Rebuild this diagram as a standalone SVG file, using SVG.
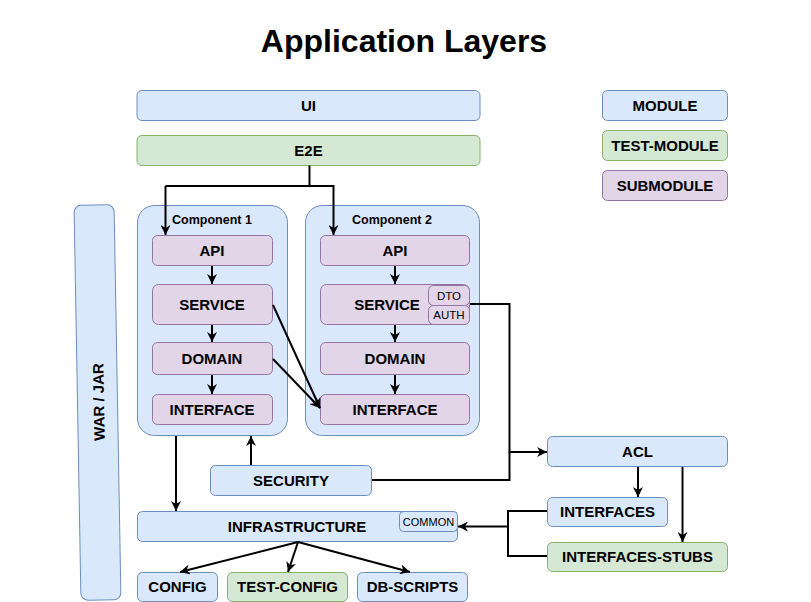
<svg xmlns="http://www.w3.org/2000/svg" width="811" height="602" viewBox="0 0 811 602">
<style>
.blue{fill:#dae8fc;stroke:#6c8ebf;stroke-width:1}
.green{fill:#d5e8d4;stroke:#82b366;stroke-width:1}
.purple{fill:#e1d5e7;stroke:#9673a6;stroke-width:1}
text{font-family:"Liberation Sans",Arial,Helvetica,sans-serif;fill:#000}
.lb{font-size:15px;font-weight:bold;text-anchor:middle}
.sm{font-size:11.5px;text-anchor:middle}
.cmp{font-size:12.5px;font-weight:bold;text-anchor:middle}
.title{font-size:32px;font-weight:bold;text-anchor:middle}
.edge{fill:none;stroke:#000;stroke-width:2}
.arr{marker-end:url(#ah)}
</style>
<defs>
<marker id="ah" markerWidth="11" markerHeight="10" refX="10" refY="5" orient="auto" markerUnits="userSpaceOnUse">
<path d="M0,0 L10,5 L0,10 L3,5 Z" fill="#000"/>
</marker>
</defs>
<rect width="811" height="602" fill="#fff"/>
<text class="title" x="404" y="52">Application Layers</text>

<g id="war-jar">
<rect class="blue" x="77.5" y="205" width="40" height="395" rx="7" transform="rotate(-1 97.5 402.5)"/>
<text class="lb" x="99" y="407" transform="rotate(-91 99 402)">WAR / JAR</text>
</g>
<g id="ui"><rect class="blue" x="137" y="90.5" width="343" height="30" rx="5"/><text class="lb" x="308.5" y="110.5">UI</text></g>
<g id="e2e"><rect class="green" x="137" y="135.5" width="343" height="30" rx="5"/><text class="lb" x="308.5" y="155.5">E2E</text></g>

<g id="legend-module"><rect class="blue" x="602.5" y="90.5" width="125" height="30" rx="5"/><text class="lb" x="665" y="110.5">MODULE</text></g>
<g id="legend-test-module"><rect class="green" x="602.5" y="130.5" width="125" height="30" rx="5"/><text class="lb" x="665" y="151">TEST-MODULE</text></g>
<g id="legend-submodule"><rect class="purple" x="602.5" y="170.5" width="125" height="30" rx="5"/><text class="lb" x="665" y="190.5">SUBMODULE</text></g>

<g id="component1">
<rect class="blue" x="137.5" y="205.5" width="150" height="230" rx="17"/>
<text class="cmp" x="212" y="224">Component 1</text>
</g>
<g id="component2">
<rect class="blue" x="305.5" y="205.5" width="174" height="230" rx="17"/>
<text class="cmp" x="392" y="224">Component 2</text>
</g>

<g id="c1-api"><rect class="purple" x="152.5" y="235.5" width="120" height="30" rx="5"/><text class="lb" x="212" y="255.5">API</text></g>
<g id="c1-service"><rect class="purple" x="152.5" y="284.5" width="120" height="40" rx="6"/><text class="lb" x="212" y="309.5">SERVICE</text></g>
<g id="c1-domain"><rect class="purple" x="152.5" y="342.5" width="120" height="32" rx="5"/><text class="lb" x="212" y="363.5">DOMAIN</text></g>
<g id="c1-interface"><rect class="purple" x="152.5" y="394.5" width="120" height="30" rx="5"/><text class="lb" x="212" y="414.5">INTERFACE</text></g>

<g id="c2-api"><rect class="purple" x="320.5" y="235.5" width="149" height="30" rx="5"/><text class="lb" x="395" y="255.5">API</text></g>
<g id="c2-service"><rect class="purple" x="320.5" y="284.5" width="149" height="40" rx="6"/><text class="lb" x="387" y="309.5">SERVICE</text></g>
<g id="c2-dto"><rect class="purple" x="428.5" y="285.5" width="41" height="20" rx="5"/><text class="sm" x="449" y="299.5">DTO</text></g>
<g id="c2-auth"><rect class="purple" x="428.5" y="305.5" width="41" height="19" rx="5"/><text class="sm" x="449" y="319">AUTH</text></g>
<g id="c2-domain"><rect class="purple" x="320.5" y="342.5" width="149" height="32" rx="5"/><text class="lb" x="395" y="363.5">DOMAIN</text></g>
<g id="c2-interface"><rect class="purple" x="320.5" y="394.5" width="149" height="30" rx="5"/><text class="lb" x="395" y="414.5">INTERFACE</text></g>

<g id="security"><rect class="blue" x="210.5" y="465.5" width="161" height="30" rx="5"/><text class="lb" x="291" y="485.5">SECURITY</text></g>
<g id="infrastructure"><rect class="blue" x="137.5" y="511.5" width="320" height="30" rx="5"/><text class="lb" x="297" y="531.5">INFRASTRUCTURE</text></g>
<g id="common"><rect class="blue" x="399.5" y="511.5" width="58" height="20" rx="4"/><text class="sm" x="428.5" y="525.5" style="font-size:11px">COMMON</text></g>
<g id="config"><rect class="blue" x="137.5" y="572.5" width="80" height="29" rx="5"/><text class="lb" x="177.5" y="592">CONFIG</text></g>
<g id="test-config"><rect class="green" x="227.5" y="572.5" width="120" height="29" rx="5"/><text class="lb" x="287.5" y="592">TEST-CONFIG</text></g>
<g id="db-scripts"><rect class="blue" x="357.5" y="572.5" width="110" height="29" rx="5"/><text class="lb" x="412.5" y="592">DB-SCRIPTS</text></g>

<g id="acl"><rect class="blue" x="547.5" y="436.5" width="180" height="30" rx="5"/><text class="lb" x="637.5" y="456.5">ACL</text></g>
<g id="interfaces"><rect class="blue" x="547.5" y="497.5" width="120" height="29" rx="5"/><text class="lb" x="607.5" y="517">INTERFACES</text></g>
<g id="interfaces-stubs"><rect class="green" x="547.5" y="542.5" width="180" height="29" rx="5"/><text class="lb" x="637.5" y="562">INTERFACES-STUBS</text></g>

<g id="connectors">
<path class="edge" d="M309.5,165.5 V186 H165.5"/>
<path class="edge arr" d="M165.5,186 V235"/>
<path class="edge arr" d="M309.5,186 H333.5 V235"/>
<path class="edge arr" d="M212,266 V284"/>
<path class="edge arr" d="M212,325 V342"/>
<path class="edge arr" d="M212,375 V394"/>
<path class="edge arr" d="M395,266 V284"/>
<path class="edge arr" d="M395,325 V342"/>
<path class="edge arr" d="M395,375 V394"/>
<path class="edge arr" d="M273,305 L320,408"/>
<path class="edge arr" d="M273,359 L320,408"/>
<path class="edge arr" d="M470,304 H509.5 V452 H547"/>
<path class="edge" d="M372,480 H509.5 V452"/>
<path class="edge arr" d="M176,436 V511"/>
<path class="edge arr" d="M251,465 V436"/>
<path class="edge arr" d="M298,542 L180,572"/>
<path class="edge arr" d="M298,542 L288,572"/>
<path class="edge arr" d="M298,542 L410,572"/>
<path class="edge arr" d="M638,467 V497"/>
<path class="edge arr" d="M682.5,467 V542"/>
<path class="edge" d="M547,511 H508 V556 H547"/>
<path class="edge arr" d="M508,526.5 H458"/>
</g>
</svg>
